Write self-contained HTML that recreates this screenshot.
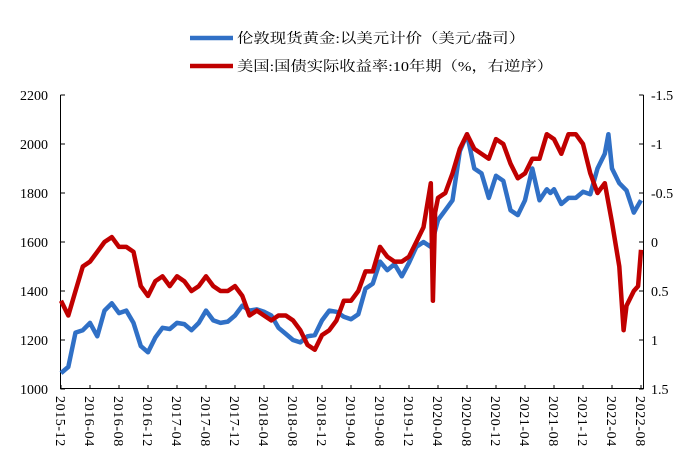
<!DOCTYPE html>
<html><head><meta charset="utf-8">
<style>
html,body{margin:0;padding:0;background:#fff;}
svg{display:block;}
text{font-family:"Liberation Serif","Noto Serif CJK SC",serif;fill:#000;}
</style></head>
<body>
<svg id="chart" width="691" height="476" viewBox="0 0 691 476" xmlns="http://www.w3.org/2000/svg">
  <g>
    <g>
      <line x1="190" y1="38" x2="233" y2="38" stroke="#3070C6" stroke-width="4.5"/>
      <text x="237" y="43" font-size="14" textLength="288" lengthAdjust="spacingAndGlyphs" font-family="Liberation Sans, Noto Sans CJK SC, sans-serif">伦敦现货黄金:以美元计价（美元/盎司）</text>
    </g>
    <g>
      <line x1="190" y1="66" x2="233" y2="66" stroke="#C00000" stroke-width="4.5"/>
      <text x="237" y="71" font-size="14" textLength="316" lengthAdjust="spacingAndGlyphs" font-family="Liberation Sans, Noto Sans CJK SC, sans-serif">美国:国债实际收益率:10年期（%，右逆序）</text>
    </g>
  </g>
  <g id="axes"></g>
  <g id="series"></g>
</svg>
<script>
const xLabels = ["2015-12","2016-04","2016-08","2016-12","2017-04","2017-08","2017-12","2018-04","2018-08","2018-12","2019-04","2019-08","2019-12","2020-04","2020-08","2020-12","2021-04","2021-08","2021-12","2022-04","2022-08"];
const leftTicks = [1000,1200,1400,1600,1800,2000,2200];
const rightTicks = [-1.5,-1,-0.5,0,0.5,1,1.5];
const rightTickLabels = ["-1.5","-1","-0.5","0","0.5","1","1.5"];
// months since 2015-12
const goldMonths = [0,1,2,3,4,5,6,7,8,9,10,11,12,13,14,15,16,17,18,19,20,21,22,23,24,25,26,27,28,29,30,31,32,33,34,35,36,37,38,39,40,41,42,43,44,45,46,47,48,49,50,51,52,53,54,55,56,57,58,59,60,61,62,63,64,65,66,67,67.5,68,69,70,71,72,73,74,75,75.5,76,77,78,79,80];
const goldValues = [1065,1090,1230,1240,1270,1215,1320,1350,1310,1320,1270,1175,1150,1210,1250,1245,1270,1265,1240,1270,1320,1280,1270,1275,1300,1340,1320,1325,1315,1300,1250,1225,1200,1190,1215,1220,1280,1320,1315,1295,1285,1305,1410,1430,1520,1485,1510,1460,1515,1580,1600,1580,1690,1730,1770,1970,2040,1900,1880,1780,1870,1850,1730,1710,1770,1900,1770,1815,1800,1815,1755,1780,1780,1805,1795,1900,1960,2040,1900,1840,1810,1720,1770];
const yieldMonths = [0,1,2,3,4,5,6,7,8,9,10,11,12,13,14,15,16,17,18,19,20,21,22,23,24,25,26,27,28,29,30,31,32,33,34,35,36,37,38,39,40,41,42,43,44,45,46,47,48,49,50,51,51.3,51.6,52,53,54,55,56,57,58,59,60,61,62,63,64,65,66,67,68,69,70,71,72,73,74,75,76,77,77.6,78,79,79.6,80];
const yieldValues = [0.6,0.75,0.5,0.25,0.2,0.1,0.0,-0.05,0.05,0.05,0.1,0.45,0.55,0.4,0.35,0.45,0.35,0.4,0.5,0.45,0.35,0.45,0.5,0.5,0.45,0.55,0.75,0.7,0.75,0.8,0.75,0.75,0.8,0.9,1.05,1.1,0.95,0.9,0.8,0.6,0.6,0.5,0.3,0.3,0.05,0.15,0.2,0.2,0.15,0.0,-0.15,-0.6,0.6,-0.3,-0.45,-0.5,-0.7,-0.95,-1.1,-0.95,-0.9,-0.85,-1.05,-1.0,-0.8,-0.65,-0.7,-0.85,-0.85,-1.1,-1.05,-0.9,-1.1,-1.1,-1.0,-0.7,-0.5,-0.6,-0.2,0.25,0.9,0.65,0.5,0.45,0.08];

const X0=61, X1=641, YT=95, YB=389, XR=643;
const xScale = m => X0 + (X1-X0)*m/80;
const yLeft = v => YB - (v-1000)/1200*(YB-YT);
const yRight = v => YT + (v+1.5)/3*(YB-YT);
const NS="http://www.w3.org/2000/svg";
const axes=document.getElementById('axes'), series=document.getElementById('series');
function mk(tag, attrs, parent){const e=document.createElementNS(NS,tag);for(const k in attrs)e.setAttribute(k,attrs[k]);parent.appendChild(e);return e;}

const la=mk('line',{x1:60.5,y1:YT,x2:60.5,y2:YB,stroke:'#000','stroke-width':1},axes);


const ra=mk('line',{x1:XR+.5,y1:YT,x2:XR+.5,y2:YB,stroke:'#000','stroke-width':1},axes);


const xa=mk('line',{x1:60,y1:YB-.5,x2:XR+1,y2:YB-.5,stroke:'#000','stroke-width':1},axes);



leftTicks.forEach(v=>{
  const y=yLeft(v);
  mk('line',{x1:60.5,y1:y,x2:65,y2:y,stroke:'#000'},axes);
  const t=mk('text',{x:48,y:y+5,'font-size':14,'text-anchor':'end'},axes);
  t.textContent=v;
  
  
});
rightTicks.forEach((v,i)=>{
  const y=yRight(v);
  mk('line',{x1:XR+.5,y1:y,x2:XR-4,y2:y,stroke:'#000'},axes);
  const t=mk('text',{x:651,y:y+5,'font-size':14},axes);
  t.textContent=rightTickLabels[i];
  
  
});
xLabels.forEach((s,i)=>{
  const x=xScale(i*4);
  mk('line',{x1:x,y1:YB,x2:x,y2:YB-4,stroke:'#000'},axes);
  const t=mk('text',{x:0,y:0,'font-size':14,'letter-spacing':'0.6',transform:`translate(${x-5},396) rotate(90)`},axes);
  t.textContent=s;
  
  
});

const gp=goldMonths.map((m,i)=>`${xScale(m).toFixed(1)},${yLeft(goldValues[i]).toFixed(1)}`).join(' ');
const g=mk('polyline',{points:gp,fill:'none',stroke:'#3070C6','stroke-width':4.5,'stroke-linejoin':'round'},series);


const yp=yieldMonths.map((m,i)=>`${xScale(m).toFixed(1)},${yRight(yieldValues[i]).toFixed(1)}`).join(' ');
const r=mk('polyline',{points:yp,fill:'none',stroke:'#C00000','stroke-width':4.5,'stroke-linejoin':'round'},series);


</script>
</body></html>
